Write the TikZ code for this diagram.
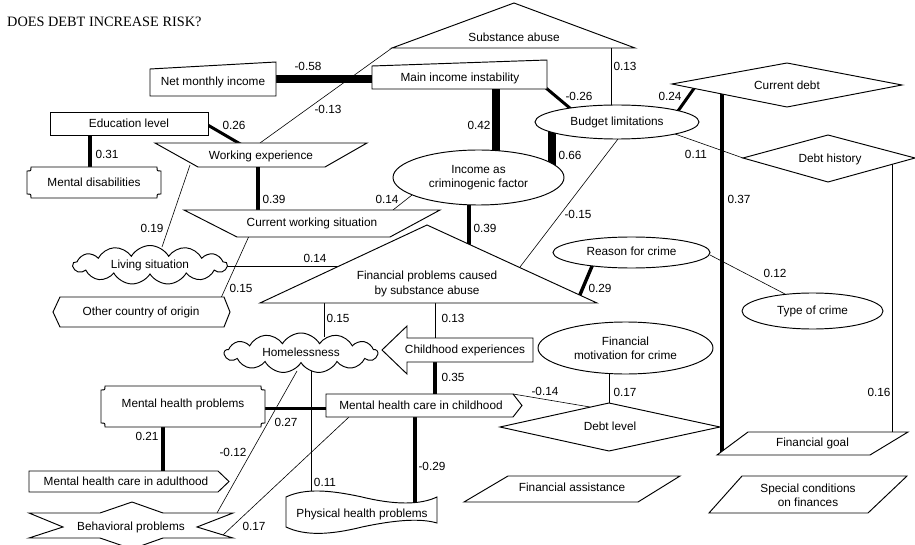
\documentclass[tikz,border=0pt]{standalone}
\usepackage{fontspec}
\setmainfont{Liberation Sans}
\newfontfamily\titlefont{Liberation Serif}
\usetikzlibrary{shapes.geometric,shapes.symbols}

\begin{document}
\begin{tikzpicture}[x=1pt,y=-1pt,
  every node/.style={inner sep=0pt, font=\fontsize{11.8}{14.2}\selectfont},
  tx/.style={text height=8.5pt, text depth=1.6pt},
  box/.style={draw, line width=0.95pt, fill=white, line join=miter},
  oval/.style={box, ellipse, align=center},
  puff/.style={box, cloud, cloud puffs=13, cloud puff arc=120, cloud ignores aspect, tx},
  link/.style={line width=0.6pt},
  w30/.style={line width=3pt},
  w34/.style={line width=3.4pt},
  w43/.style={line width=4.3pt},
  w47/.style={line width=4.7pt},
  w75/.style={line width=7.5pt},
]
\useasboundingbox (0,0) rectangle (915,545);
\fill[white] (0,0) rectangle (915,545);

% ---------- connector end points ----------
\coordinate (nmi-e) at (274,79);   \coordinate (mii-w) at (374,79);
\coordinate (sub-w) at (392,48);   \coordinate (wexp-n) at (260,143);
\coordinate (edu-e) at (206,124);  \coordinate (wexp-nw) at (242,145);
\coordinate (edu-s) at (90,133);   \coordinate (md-n) at (90,169);
\coordinate (wexp-s) at (258,165); \coordinate (cws-n) at (258,212);
\coordinate (cws-ne) at (393,210); \coordinate (icf-sw) at (412,195);
\coordinate (mii-s) at (496,87);   \coordinate (icf-n) at (496,153);
\coordinate (mii-se) at (546,88);  \coordinate (bud-nw) at (571,109);
\coordinate (bud-s) at (552,130);  \coordinate (icf-ne) at (552,165);
\coordinate (sub-s) at (611,48);   \coordinate (bud-n) at (611,108);
\coordinate (bud-ne) at (678,111); \coordinate (cd-sw) at (695,87);
\coordinate (cd-s) at (722,88);    \coordinate (fg-w) at (722,455);
\coordinate (bud-e) at (675,134);  \coordinate (dh-w) at (743,158);
\coordinate (dh-s) at (892,162);   \coordinate (fg-n) at (892,435);
\coordinate (icf-s) at (469,200);  \coordinate (fp-n) at (469,250);
\coordinate (bud-sw) at (618,139); \coordinate (fp-ne) at (520,267);
\coordinate (rc-sw) at (592.5,265);\coordinate (fp-e) at (579,297);
\coordinate (rc-e) at (710,255);   \coordinate (tc-n) at (785,294);
\coordinate (liv-e) at (224,266);  \coordinate (fp-w) at (342,266);
\coordinate (wexp-sw) at (190,165);\coordinate (liv-n) at (162,247);
\coordinate (cws-sw) at (249,236); \coordinate (oco-n) at (221,298);
\coordinate (fp-s1) at (324,301);  \coordinate (hl-n) at (324,337);
\coordinate (fp-s2) at (435,301);  \coordinate (ce-n) at (435,340);
\coordinate (ce-s) at (435,360);   \coordinate (mhc-n) at (435,396);
\coordinate (mhc-ne) at (513,394); \coordinate (dl-nw) at (590,407);
\coordinate (fm-s) at (609,372);   \coordinate (dl-n) at (609,405);
\coordinate (mhp-e) at (263,408);  \coordinate (mhc-w) at (328,408);
\coordinate (mhp-s) at (163,425);  \coordinate (mha-n) at (163,473);
\coordinate (hl-s1) at (297,371);  \coordinate (bp-n) at (217,513);
\coordinate (hl-s2) at (311,371);  \coordinate (ph-n1) at (311,494);
\coordinate (mhc-sw) at (349,417); \coordinate (bp-e) at (223,535);
\coordinate (mhc-s) at (415,415);  \coordinate (ph-n2) at (415,504);

% ---------- connectors ----------
\draw[w75] (nmi-e) -- (mii-w);
\draw[link] (sub-w) -- (wexp-n);
\draw[w30] (edu-e) -- (wexp-nw);
\draw[w47] (edu-s) -- (md-n);
\draw[w47] (wexp-s) -- (cws-n);
\draw[link] (cws-ne) -- (icf-sw);
\draw[w75] (mii-s) -- (icf-n);
\draw[w30] (mii-se) -- (bud-nw);
\draw[w75] (bud-s) -- (icf-ne);
\draw[link] (sub-s) -- (bud-n);
\draw[w30] (bud-ne) -- (cd-sw);
\draw[link] (bud-e) -- (dh-w);
\draw[w43] (cd-s) -- (fg-w);
\draw[link] (dh-s) -- (fg-n);
\draw[w47] (icf-s) -- (fp-n);
\draw[link] (bud-sw) -- (fp-ne);
\draw[w34] (rc-sw) -- (fp-e);
\draw[link] (rc-e) -- (tc-n);
\draw[link] (liv-e) -- (fp-w);
\draw[link] (wexp-sw) -- (liv-n);
\draw[link] (cws-sw) -- (oco-n);
\draw[link] (fp-s1) -- (hl-n);
\draw[link] (fp-s2) -- (ce-n);
\draw[w43] (ce-s) -- (mhc-n);
\draw[link] (mhc-ne) -- (dl-nw);
\draw[link] (fm-s) -- (dl-n);
\draw[w30] (mhp-e) -- (mhc-w);
\draw[w34] (mhp-s) -- (mha-n);
\draw[link] (hl-s1) -- (bp-n);
\draw[link] (hl-s2) -- (ph-n1);
\draw[link] (mhc-sw) -- (bp-e);
\draw[w43] (mhc-s) -- (ph-n2);

% ---------- shapes ----------
% Substance abuse
\draw[box] (392,48) -- (514,3) -- (635,48) -- cycle;
\node[tx] (sub) at (514,38) {Substance abuse};
% Net monthly income
\draw[box] (150,69) -- (276,62) -- (276,96) -- (150,96) -- cycle;
\node[tx] (nmi) at (213,82) {Net monthly income};
% Main income instability
\draw[box] (372,66) -- (547,60) -- (547,89) -- (372,89) -- cycle;
\node[tx] (mii) at (460,78) {Main income instability};
% Education level
\draw[box] (50,112) rectangle (208,135);
\node[tx] (edu) at (129,124) {Education level};
% Working experience
\draw[box] (155,143) -- (367,143) -- (325,167) -- (198,167) -- cycle;
\node[tx] (wexp) at (261,156) {Working experience};
% Mental disabilities
\draw[box] (31,167) -- (157,167) .. controls (157,171) .. (161,171) -- (161,194)
  .. controls (157,194) .. (157,198) -- (31,198) .. controls (31,194) .. (27,194)
  -- (27,171) .. controls (31,171) .. (31,167) -- cycle;
\node[tx] (md) at (94,183) {Mental disabilities};
% Current working situation
\draw[box] (184,210) -- (440,210) -- (390,237) -- (237,237) -- cycle;
\node[tx] (cws) at (312,223) {Current working situation};
% Income as criminogenic factor
\node[oval, minimum width=171pt, minimum height=55pt] (icf) at (478.5,177.5) {Income as\\criminogenic factor};
% Budget limitations
\node[oval, minimum width=164pt, minimum height=34pt, tx] (bud) at (617,122) {Budget limitations};
% Current debt
\draw[box] (672,84) -- (787,63) -- (902,85) -- (787,107) -- cycle;
\node[tx] (cd) at (787,86) {Current debt};
% Debt history
\draw[box] (743,158) -- (828,135) -- (915,158) -- (828,182) -- cycle;
\node[tx] (dh) at (830,159) {Debt history};
% Financial problems caused by substance abuse
\draw[box] (260,303) -- (427,225) -- (597,303) -- cycle;
\node[align=center] (fp) at (427,284) {Financial problems caused\\by substance abuse};
% Reason for crime
\node[oval, minimum width=157pt, minimum height=31pt, tx] (rc) at (631.5,252.5) {Reason for crime};
% Type of crime
\node[oval, minimum width=141pt, minimum height=36pt, tx] (tc) at (812.5,311) {Type of crime};
% Living situation
\node[puff, minimum width=154pt, minimum height=39pt] (liv) at (150,265) {Living situation};
% Other country of origin
\draw[box] (53,312) -- (60,297) -- (224,297) -- (230,312) -- (224,327) -- (60,327) -- cycle;
\node[tx] (oco) at (141,312) {Other country of origin};
% Homelessness
\node[puff, minimum width=153pt, minimum height=40pt] (hl) at (301,353) {Homelessness};
% Childhood experiences
\draw[box] (382,350) -- (407,326) -- (407,338) -- (533,338) -- (533,362) -- (407,362) -- (407,374) -- cycle;
\node[tx] (ce) at (465,350) {Childhood experiences};
% Mental health care in childhood
\draw[box] (326,394) -- (513,394) -- (522,405.5) -- (513,417) -- (326,417) -- cycle;
\node[tx] (mhc) at (421,406) {Mental health care in childhood};
% Financial motivation for crime
\node[oval, minimum width=175pt, minimum height=52pt] (fm) at (625.5,348) {Financial\\motivation for crime};
% Debt level
\draw[box] (500,427) -- (609,403) -- (720,427) -- (609,451) -- cycle;
\node[tx] (dl) at (610,427) {Debt level};
% Mental health problems
\draw[box] (105,386) -- (261,386) .. controls (261,390) .. (265,390) -- (265,423)
  .. controls (261,423) .. (261,427) -- (105,427) .. controls (105,423) .. (101,423)
  -- (101,390) .. controls (105,390) .. (105,386) -- cycle;
\node[tx] (mhp) at (183,404) {Mental health problems};
% Mental health care in adulthood
\draw[box] (29,471) -- (218,471) -- (229,481.5) -- (218,492) -- (29,492) -- cycle;
\node[tx] (mha) at (126,482) {Mental health care in adulthood};
% Behavioral problems
\draw[box] (29,513) -- (100,513) -- (132,502) -- (163,513) -- (233,513) -- (197,527)
  -- (233,538) -- (163,538) -- (132,549) -- (100,538) -- (29,538) -- (63,527) -- cycle;
\node[tx] (bp) at (131,527) {Behavioral problems};
% Physical health problems
\draw[box] (286,497) .. controls (305,488) and (330,490) .. (362,497)
  .. controls (395,505) and (420,505) .. (437,497) -- (437,523)
  .. controls (420,518) and (395,520) .. (362,527)
  .. controls (330,535) and (305,536) .. (286,527) -- cycle;
\node[tx] (ph) at (362,514) {Physical health problems};
% Financial goal
\draw[box] (748,432) -- (908,432) -- (870,455) -- (717,455) -- cycle;
\node[tx] (fg) at (812.5,443) {Financial goal};
% Financial assistance
\draw[box] (508,476) -- (680,476) -- (638,502) -- (464,502) -- cycle;
\node[tx] (fa) at (572,488) {Financial assistance};
% Special conditions on finances
\draw[box] (742,476) -- (907,476) -- (868,513) -- (709,513) -- cycle;
\node[align=center] (sc) at (808,495) {Special conditions\\on finances};

% ---------- title ----------
\node[anchor=base west, font=\titlefont\fontsize{14.3}{16}\selectfont] (title) at (7,26.5) {DOES DEBT INCREASE RISK?};

% ---------- coefficients ----------
\node[tx] (l1) at (308,67) {-0.58};
\node[tx] (l2) at (328,110) {-0.13};
\node[tx] (l3) at (234,126) {0.26};
\node[tx] (l4) at (107,155) {0.31};
\node[tx] (l5) at (274,200) {0.39};
\node[tx] (l6) at (387,200) {0.14};
\node[tx] (l7) at (479,126) {0.42};
\node[tx] (l8) at (579,97) {-0.26};
\node[tx] (l9) at (570,156) {0.66};
\node[tx] (l10) at (625,67) {0.13};
\node[tx] (l11) at (670,97) {0.24};
\node[tx] (l12) at (696,155) {0.11};
\node[tx] (l13) at (739,200) {0.37};
\node[tx] (l14) at (485,229) {0.39};
\node[tx] (l15) at (578,215) {-0.15};
\node[tx] (l16) at (600,289) {0.29};
\node[tx] (l17) at (775,274) {0.12};
\node[tx] (l18) at (152,229) {0.19};
\node[tx] (l19) at (315,259) {0.14};
\node[tx] (l20) at (241,289) {0.15};
\node[tx] (l21) at (338,319) {0.15};
\node[tx] (l22) at (453,319) {0.13};
\node[tx] (l23) at (453,378) {0.35};
\node[tx] (l24) at (545,392) {-0.14};
\node[tx] (l25) at (625,393) {0.17};
\node[tx] (l26) at (879,393) {0.16};
\node[tx] (l27) at (286,423) {0.27};
\node[tx] (l28) at (147,437) {0.21};
\node[tx] (l29) at (233,453) {-0.12};
\node[tx] (l30) at (325,483) {0.11};
\node[tx] (l31) at (432,467) {-0.29};
\node[tx] (l32) at (254,527) {0.17};
\end{tikzpicture}
\end{document}
